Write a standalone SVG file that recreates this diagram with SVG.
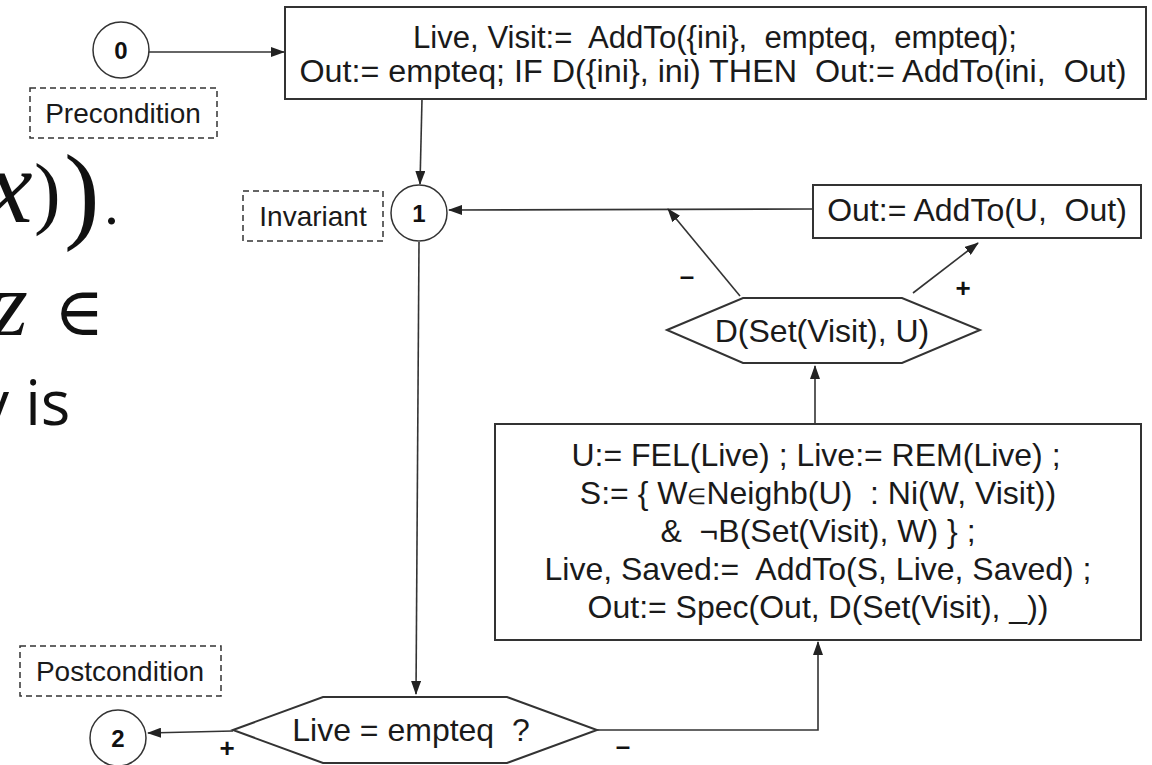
<svg xmlns="http://www.w3.org/2000/svg" width="1152" height="765" viewBox="0 0 1152 765">
<defs>
<marker id="ah" markerWidth="14" markerHeight="10" refX="13" refY="5" orient="auto" markerUnits="userSpaceOnUse">
<path d="M0,0 L14,5 L0,10 Z" fill="#222"/>
</marker>
<style>
.t{font-family:"Liberation Sans",Arial,sans-serif;font-size:32px;fill:#1a1a1a}
.lbl{font-family:"Liberation Sans",Arial,sans-serif;font-size:28px;fill:#1a1a1a;text-anchor:middle}
.t31{font-size:31px}
.c{text-anchor:middle}
.box{fill:#fff;stroke:#333;stroke-width:2}
.dash{fill:#fff;stroke:#333;stroke-width:1.5;stroke-dasharray:6 4}
.circ{fill:#fff;stroke:#333;stroke-width:1.5}
.num{font-family:"Liberation Sans",Arial,sans-serif;font-size:24px;font-weight:bold;text-anchor:middle;fill:#111}
.sign{font-family:"Liberation Sans",Arial,sans-serif;font-size:26px;font-weight:bold;text-anchor:middle;fill:#111}
.conn line,.conn polyline{stroke:#333;stroke-width:1.6;fill:none}
.math{font-family:"Liberation Serif","DejaVu Serif",serif;font-style:italic;fill:#111}
.paren{font-family:"Liberation Serif","DejaVu Serif",serif;fill:#111}
.bg{font-family:"Open Sans","Noto Sans",sans-serif;fill:#111}
</style>
</defs>
<rect width="1152" height="765" fill="#fff"/>

<g id="background-text">
<text class="math" x="-14" y="222" font-size="105">x</text>
<text class="paren" x="34" y="219" font-size="80">)</text>
<text class="paren" x="64" y="229" font-size="107">)</text>
<text class="paren" x="104" y="224" font-size="60">.</text>
<text class="math" x="-8" y="335" font-size="92">z</text>
<text x="54" y="335" font-family="DejaVu Serif,serif" font-size="68" fill="#111">∈</text>
<text class="bg" x="-22" y="425" font-size="62">y is</text>
</g>

<g class="conn" id="connectors">
<line x1="149" y1="52" x2="284" y2="52" marker-end="url(#ah)"/>
<line x1="422" y1="99" x2="420" y2="184" marker-end="url(#ah)"/>
<line x1="813" y1="209" x2="449" y2="210" marker-end="url(#ah)"/>
<line x1="740" y1="296" x2="668" y2="209" marker-end="url(#ah)"/>
<line x1="913" y1="293" x2="978" y2="243" marker-end="url(#ah)"/>
<line x1="815" y1="424" x2="815" y2="366" marker-end="url(#ah)"/>
<line x1="419" y1="242" x2="416" y2="694" marker-end="url(#ah)"/>
<line x1="233" y1="731" x2="148" y2="733" marker-end="url(#ah)"/>
<polyline points="597,730 818,730 818,642" marker-end="url(#ah)"/>
<text class="sign" x="687" y="285">–</text>
<text class="sign" x="963" y="297">+</text>
<text class="sign" x="227" y="757">+</text>
<text class="sign" x="623" y="755">–</text>
</g>

<g id="node-0">
<circle class="circ" cx="121" cy="50" r="28"/>
<text class="num" x="121" y="59">0</text>
</g>
<g id="precondition">
<rect class="dash" x="30" y="88" width="187" height="50"/>
<text class="lbl" x="123" y="123">Precondition</text>
</g>
<g id="init-box">
<rect class="box" x="285" y="7" width="861" height="92"/>
<text class="t t31 c" x="715" y="48" textLength="604" lengthAdjust="spacingAndGlyphs" xml:space="preserve">Live, Visit:=  AddTo({ini},  empteq,  empteq);</text>
<text class="t t31 c" x="713" y="82" textLength="827" lengthAdjust="spacingAndGlyphs" xml:space="preserve">Out:= empteq; IF D({ini}, ini) THEN  Out:= AddTo(ini,  Out)</text>
</g>
<g id="invariant">
<rect class="dash" x="243" y="191" width="140" height="50"/>
<text class="lbl" x="313" y="226">Invariant</text>
</g>
<g id="node-1">
<circle class="circ" cx="419" cy="213" r="28"/>
<text class="num" x="419" y="222">1</text>
</g>
<g id="out-box">
<rect class="box" x="813" y="185" width="328" height="53"/>
<text class="t c" x="977" y="221" xml:space="preserve">Out:= AddTo(U,  Out)</text>
</g>
<g id="cond-d">
<polygon class="box" points="667,330 743,298 902,298 980,330 902,363 743,363"/>
<text class="t c" x="822" y="342">D(Set(Visit), U)</text>
</g>
<g id="loop-box">
<rect class="box" x="495" y="424" width="646" height="216"/>
<text class="t c" x="816" y="466">U:= FEL(Live) ; Live:= REM(Live) ;</text>
<text class="t c" x="818" y="504" xml:space="preserve">S:= { W<tspan style="font-size:22px">∈</tspan>Neighb(U)  : Ni(W, Visit))</text>
<text class="t c" x="818" y="542" xml:space="preserve">&amp;  ¬B(Set(Visit), W) } ;</text>
<text class="t c" x="818" y="580" xml:space="preserve">Live, Saved:=  AddTo(S, Live, Saved) ;</text>
<text class="t c" x="818" y="618">Out:= Spec(Out, D(Set(Visit), _))</text>
</g>
<g id="postcondition">
<rect class="dash" x="20" y="646" width="201" height="50"/>
<text class="lbl" x="120" y="681">Postcondition</text>
</g>
<g id="node-2">
<circle class="circ" cx="118" cy="738" r="28"/>
<text class="num" x="118" y="747">2</text>
</g>
<g id="cond-live">
<polygon class="box" points="233,730 323,697 507,697 597,730 507,763 323,763"/>
<text class="t c" x="411" y="741" xml:space="preserve">Live = empteq  ?</text>
</g>
</svg>
